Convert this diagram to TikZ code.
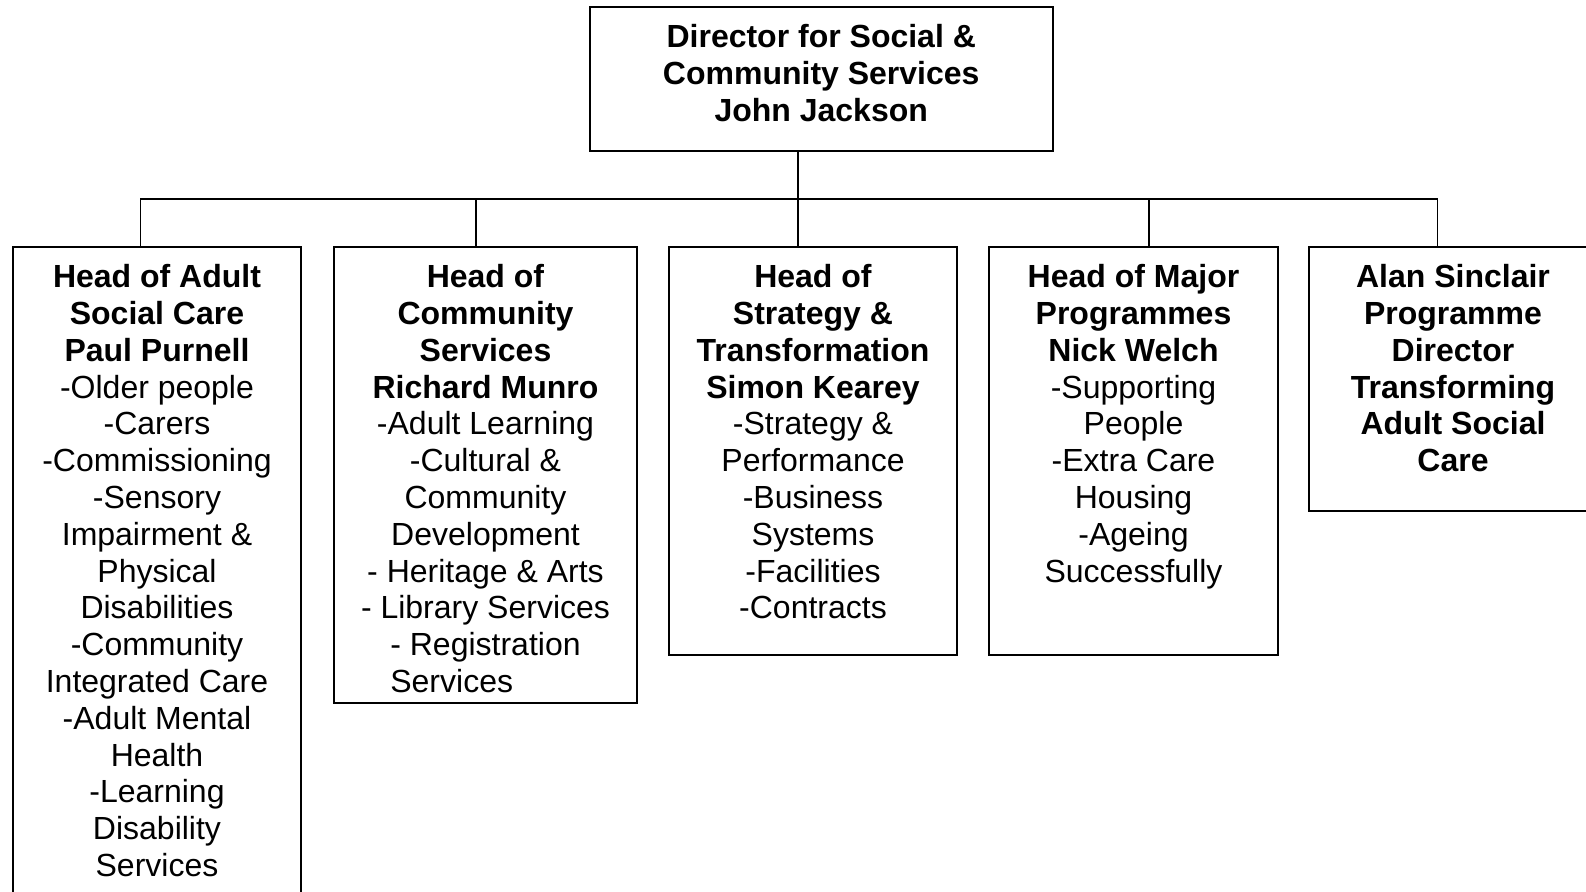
\documentclass[tikz,border=0pt]{standalone}
\usepackage{fontspec}
\setmainfont{Liberation Sans}
\newcommand{\firststrut}{\rule{0pt}{30pt}}
\newlength{\regw}
\begin{document}
\begin{tikzpicture}[x=1pt,y=-1pt,
  box/.style={draw,line width=2pt,inner sep=0pt,outer sep=0pt},
  txt/.style={anchor=north,yshift=-10.5pt,inner sep=0pt,align=center,
    font=\fontsize{32}{36.8}\selectfont},
  link/.style={line width=1.5pt}]
\clip (0,0) rectangle (1586,891);
\fill[white] (0,0) rectangle (1586,891);
% boxes
\node[box,minimum width=463.5,minimum height=144] (top) at (821.25,79) {};
\node[box,minimum width=288,minimum height=753] (b1) at (157,623.5) {};
\node[box,minimum width=303,minimum height=456] (b2) at (485.5,475) {};
\node[box,minimum width=288,minimum height=408] (b3) at (813,451) {};
\node[box,minimum width=289,minimum height=408] (b4) at (1133.5,451) {};
\node[box,minimum width=288,minimum height=264] (b5) at (1453,379) {};
% texts
\node[txt] (t0) at (top.north) {\firststrut\textbf{Director for Social \&}\\\textbf{Community Services}\\\textbf{John Jackson}};
\node[txt] (t1) at (b1.north) {\firststrut\textbf{Head of Adult}\\\textbf{Social Care}\\\textbf{Paul Purnell}\\-Older people\\-Carers\\-Commissioning\\-Sensory\\Impairment \&\\Physical\\Disabilities\\-Community\\Integrated Care\\-Adult Mental\\Health\\-Learning\\Disability\\Services};
\node[txt] (t2) at (b2.north) {\firststrut\textbf{Head of}\\\textbf{Community}\\\textbf{Services}\\\textbf{Richard Munro}\\-Adult Learning\\-Cultural \&\\Community\\Development\\- Heritage \& Arts\\- Library Services\\- Registration\\\makebox[0pt][l]{Services}\phantom{- Registration}};
\node[txt] (t3) at (b3.north) {\firststrut\textbf{Head of}\\\textbf{Strategy \&}\\\textbf{Transformation}\\\textbf{Simon Kearey}\\-Strategy \&\\Performance\\-Business\\Systems\\-Facilities\\-Contracts};
\node[txt] (t4) at (b4.north) {\firststrut\textbf{Head of Major}\\\textbf{Programmes}\\\textbf{Nick Welch}\\-Supporting\\People\\-Extra Care\\Housing\\-Ageing\\Successfully};
\node[txt] (t5) at (b5.north) {\firststrut\textbf{Alan Sinclair}\\\textbf{Programme}\\\textbf{Director}\\\textbf{Transforming}\\\textbf{Adult Social}\\\textbf{Care}};
% connectors
\coordinate (bar) at (798,199);
\coordinate (d1) at (140.5,199);
\coordinate (d2) at (476,199);
\coordinate (d4) at (1149,199);
\coordinate (d5) at (1437.5,199);
\draw[link] (top.south -| bar) -- (bar) -- (bar |- b3.north);
\draw[link] (d1 |- b1.north) -- (d1) -- (d5) -- (d5 |- b5.north);
\draw[link] (d2) -- (d2 |- b2.north);
\draw[link] (d4) -- (d4 |- b4.north);
\end{tikzpicture}
\end{document}
